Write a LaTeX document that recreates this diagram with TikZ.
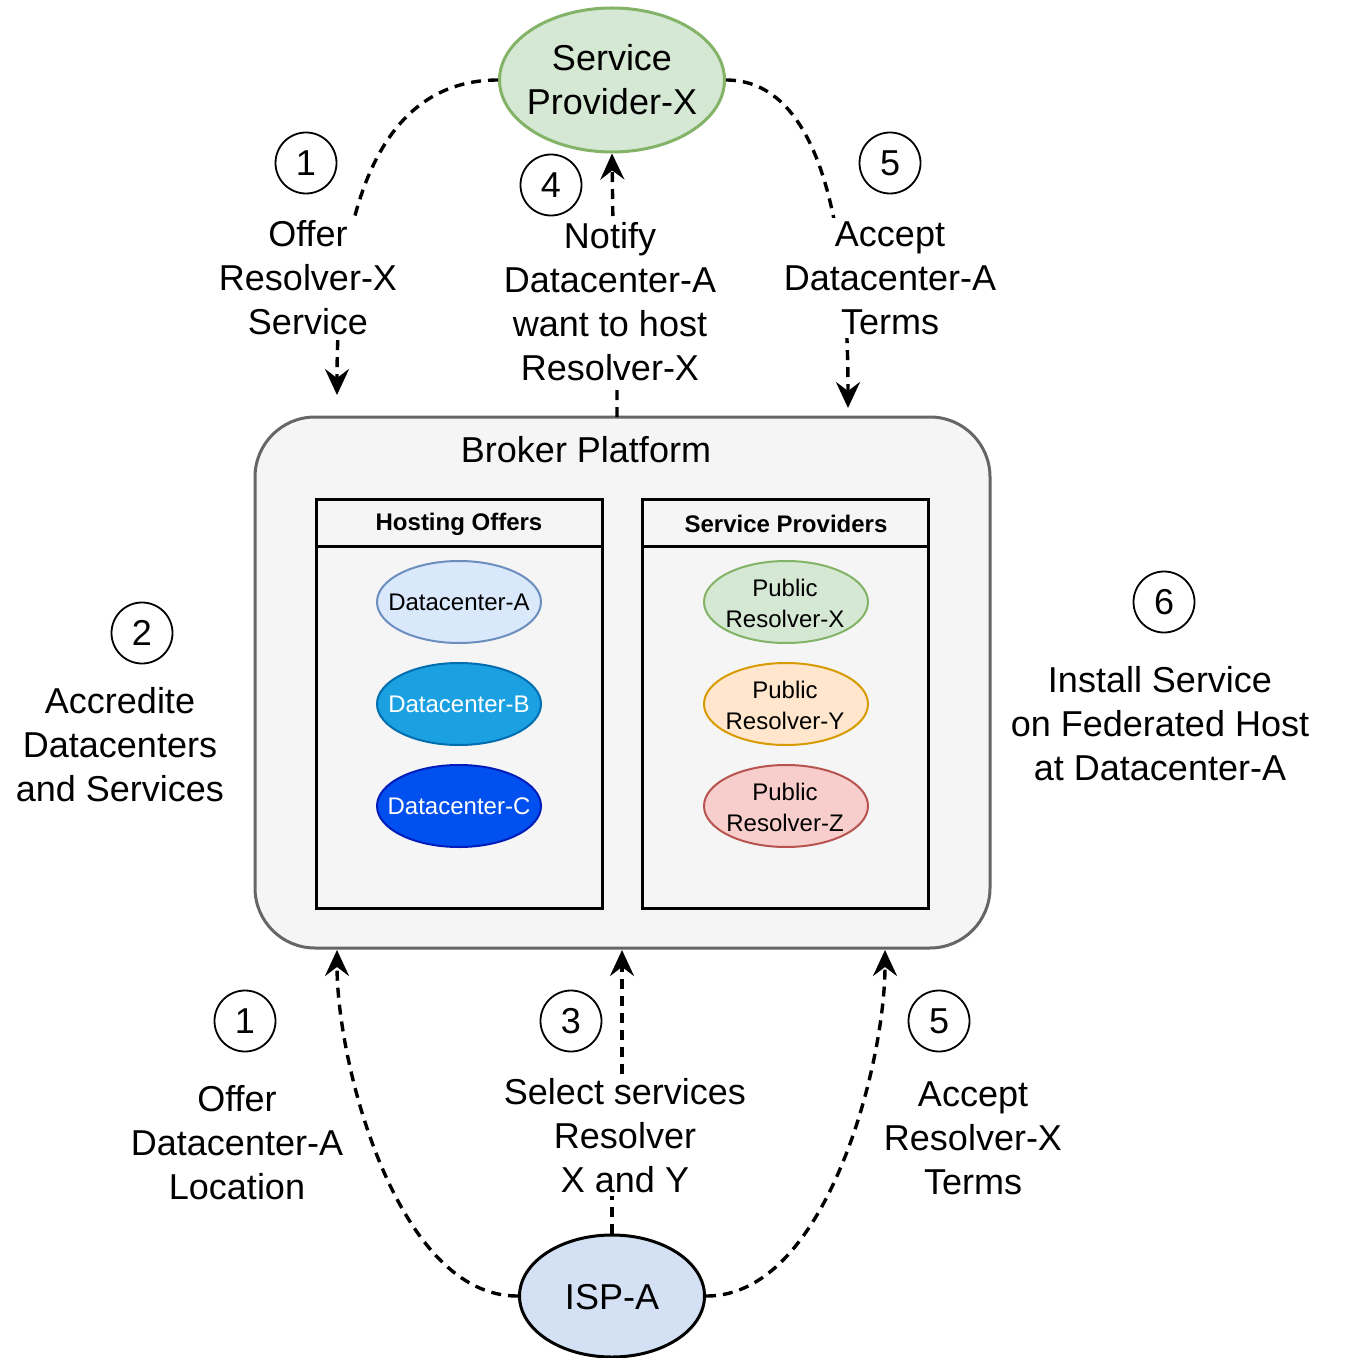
\documentclass[tikz,border=0pt]{standalone}
\usepackage{fontspec}
\setmainfont{Liberation Sans}
\usetikzlibrary{shapes.geometric,arrows.meta}
\definecolor{spfill}{HTML}{D5E8D4}
\definecolor{spdraw}{HTML}{82B366}
\definecolor{ispfill}{HTML}{D4E1F5}
\definecolor{brokerfill}{HTML}{F5F5F5}
\definecolor{brokerdraw}{HTML}{666666}
\definecolor{dcafill}{HTML}{DAE8FC}
\definecolor{dcadraw}{HTML}{6C8EBF}
\definecolor{dcbfill}{HTML}{1BA1E2}
\definecolor{dcbdraw}{HTML}{006EAF}
\definecolor{dccfill}{HTML}{0050EF}
\definecolor{dccdraw}{HTML}{001DBC}
\definecolor{ryfill}{HTML}{FFE6CC}
\definecolor{rydraw}{HTML}{D79B00}
\definecolor{rzfill}{HTML}{F8CECC}
\definecolor{rzdraw}{HTML}{B85450}
\begin{document}
\begin{tikzpicture}[x=0.5pt,y=-0.5pt,
  big/.style={font=\fontsize{18}{22}\selectfont, align=center},
  lbl/.style={big, fill=white, inner sep=1.5pt},
  num/.style={circle, draw, line width=0.9pt, minimum size=30.5pt, inner sep=0pt, font=\fontsize{18}{22}\selectfont},
  flow/.style={dash pattern=on 5pt off 3.5pt, line width=1.7pt, -{Stealth[length=13pt,width=12pt,inset=4.5pt]}},
  inner/.style={ellipse, line width=1pt, minimum width=82pt, minimum height=41pt, inner sep=0pt},
  intext/.style={font=\fontsize{12}{15.5}\selectfont, align=center, inner sep=0pt},
  panel/.style={draw, line width=1.5pt, fill=brokerfill, minimum width=143pt, minimum height=204.5pt, inner sep=0pt},
  head/.style={font=\fontsize{12}{15}\selectfont\bfseries}
]
\path[use as bounding box] (0,0) rectangle (1345,1358);

% main nodes
\node[ellipse, draw=spdraw, fill=spfill, line width=1.5pt, minimum width=112.5pt, minimum height=72pt, inner sep=0pt] (sp) at (612,80) {};
\node[big, inner sep=0pt] (sptext) at (612,80) {Service\\Provider-X};
\node[ellipse, draw=black, fill=ispfill, line width=1.5pt, minimum width=92.5pt, minimum height=61pt, inner sep=0pt] (isp) at (612,1296) {};
\node[big, inner sep=0pt] (isptext) at (612,1297) {ISP-A};

\node[draw=brokerdraw, fill=brokerfill, line width=1.5pt, rounded corners=30pt, minimum width=367.5pt, minimum height=265.5pt, inner sep=0pt] (broker) at (622.5,682.5) {};
\node[big] (brokertitle) at (586,450) {Broker Platform};

\node[panel] (hosting) at (459,703.5) {};
\draw[line width=1.5pt] (hosting.west |- 0,546) coordinate (h1) -- (hosting.east |- 0,546) coordinate (h2);
\node[head] (hostingtitle) at (459,524) {Hosting Offers};

\node[panel] (providers) at (785.5,703.5) {};
\draw[line width=1.5pt] (providers.west |- 0,546) coordinate (p1) -- (providers.east |- 0,546) coordinate (p2);
\node[head] (providerstitle) at (786,524) {Service Providers};

\node[inner, draw=dcadraw, fill=dcafill] (dca) at (459,602) {};
\node[intext] (dcat) at (459,602) {Datacenter-A};
\node[inner, draw=dcbdraw, fill=dcbfill] (dcb) at (459,704) {};
\node[intext, text=white] (dcbt) at (459,704) {Datacenter-B};
\node[inner, draw=dccdraw, fill=dccfill] (dcc) at (459,806) {};
\node[intext, text=white] (dcct) at (459,806) {Datacenter-C};
\node[inner, draw=spdraw, fill=spfill] (rx) at (786,602) {};
\node[intext] (rxt) at (785,603) {Public\\Resolver-X};
\node[inner, draw=rydraw, fill=ryfill] (ry) at (786,704) {};
\node[intext] (ryt) at (785,705) {Public\\Resolver-Y};
\node[inner, draw=rzdraw, fill=rzfill] (rz) at (786,806) {};
\node[intext] (rzt) at (785,807) {Public\\Resolver-Z};

% end coordinates
\coordinate (t1) at (337,395);
\coordinate (t4s) at (617,417);
\coordinate (t5) at (848,408);
\coordinate (b1) at (337,950);
\coordinate (b3) at (622,950);
\coordinate (b5) at (885,950);

% connectors
\draw[flow] (sp.west) .. controls (391.3,80) and (337,185) .. (t1);
\draw[flow] (sp.east) .. controls (807,80) and (848,190) .. (t5);
\draw[flow] (t4s) -- (617,302) -- (614,302) -- (sp.south);
\draw[flow] (isp.west) .. controls (398,1297) and (337,1066) .. (b1);
\draw[flow] (isp.east) .. controls (825,1297) and (885,1066) .. (b5);
\draw[flow] (isp.north) -- (612,1136) -- (622,1136) -- (b3);

% labels
\node[lbl] (l1) at (308,278) {Offer\\Resolver-X\\Service};
\node[lbl] (l4) at (610,302) {Notify\\Datacenter-A\\want to host\\Resolver-X};
\node[lbl] (l5) at (890,278) {Accept\\Datacenter-A\\Terms};
\node[big] (l2) at (120,745) {Accredite\\Datacenters\\and Services};
\node[big] (l6) at (1160,724) {Install Service\\on Federated Host\\at Datacenter-A};
\node[lbl] (lb1) at (237,1143) {Offer\\Datacenter-A\\Location};
\node[lbl] (lb3) at (625,1136) {Select services\\Resolver\\X and Y};
\node[lbl] (lb5) at (973,1138) {Accept\\Resolver-X\\Terms};

% step numbers
\node[num] (n1) at (306,163) {1};
\node[num] (n4) at (551,185) {4};
\node[num] (n5) at (890,163) {5};
\node[num] (n2) at (142,633) {2};
\node[num] (n6) at (1164,602) {6};
\node[num] (m1) at (245,1021) {1};
\node[num] (m3) at (571,1021) {3};
\node[num] (m5) at (939,1021) {5};
\end{tikzpicture}
\end{document}
